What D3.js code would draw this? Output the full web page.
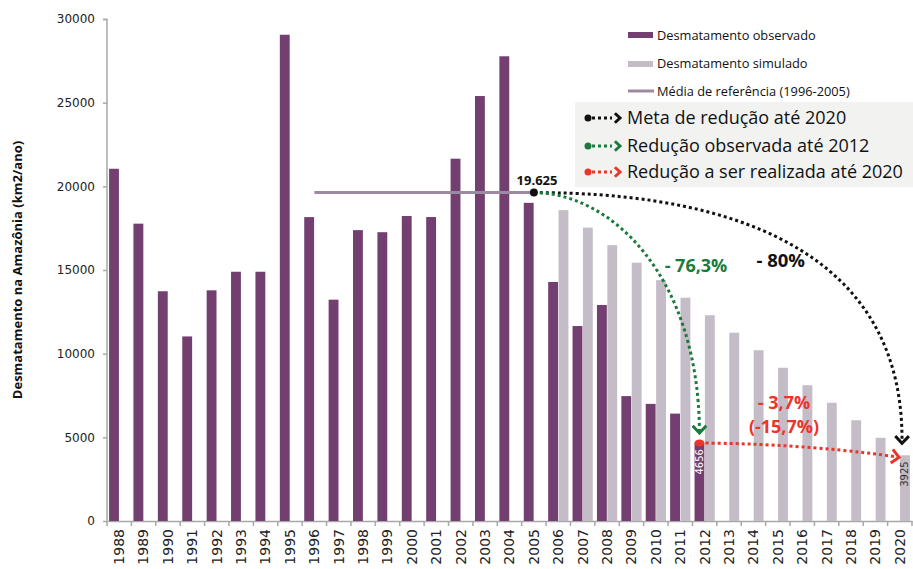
<!DOCTYPE html>
<html><head><meta charset="utf-8">
<script src="https://cdn.jsdelivr.net/npm/d3@7/dist/d3.min.js"></script>
<style>
html,body{margin:0;padding:0;background:#fff;}
svg{display:block;}
</style></head>
<body>
<svg id="chart" width="913" height="569"></svg>
<script>
const years = ["1988","1989","1990","1991","1992","1993","1994","1995","1996","1997","1998","1999","2000","2001","2002","2003","2004","2005","2006","2007","2008","2009","2010","2011","2012","2013","2014","2015","2016","2017","2018","2019","2020"];
const observedYears = years.slice(0, 25);
const observed = [21050,17770,13730,11030,13786,14896,14896,29059,18161,13227,17383,17259,18226,18165,21651,25396,27772,19014,14286,11651,12911,7464,7000,6418,4656];
const simulatedYears = years.slice(18);
const simulated = [18578,17532,16485,15438,14392,13345,12298,11252,10205,9158,8112,7065,6018,4972,3925];
const refYears = ["1996","2005"];
const refValue = 19625;
const yTicks = [0,5000,10000,15000,20000,25000,30000];
const seriesNames = ["Desmatamento observado","Desmatamento simulado","Média de referência (1996-2005)"];
const annotationLegend = ["Meta de redução até 2020","Redução observada até 2012","Redução a ser realizada até 2020"];
const goalLabel = "- 80%", observedRedLabel = "- 76,3%", remainLabel1 = "- 3,7%", remainLabel2 = "(-15,7%)";

const C = {obs:"#733f70", sim:"#c4bcc6", ref:"#9c8aa2", axis:"#a8a8a8", green:"#1c7a3c", red:"#ec3428", black:"#111"};
const svg = d3.select("#chart");
const x = d3.scaleBand().domain(years).range([107, 912]).paddingInner(0).paddingOuter(0);
const inner = d3.scaleBand().domain(["obs","sim"]).range([0, x.bandwidth()]).paddingInner(0.05).paddingOuter(0.2);
const y = d3.scaleLinear().domain([0, 30000]).range([521, 19]);

// axes
const yAxis = svg.append("g").attr("transform","translate(107,0)")
  .call(d3.axisLeft(y).tickValues(yTicks).tickSize(4).tickPadding(8).tickFormat(d3.format("d")));
yAxis.select(".domain").attr("stroke", C.axis).attr("stroke-width",1.5).attr("d","M-4,19.5H0V521");
yAxis.selectAll(".tick line").attr("stroke", C.axis).attr("stroke-width",1.5);
yAxis.selectAll("text").attr("font-family","DejaVu Sans").attr("font-size",12).attr("fill","#222");

const xAxis = svg.append("g").attr("transform","translate(0,521)")
  .call(d3.axisBottom(x).tickSize(0).tickPadding(0));
xAxis.select(".domain").attr("stroke", C.axis).attr("stroke-width",1.5);
xAxis.selectAll(".tick text").attr("font-family","DejaVu Sans").attr("font-size",14).attr("fill","#222")
  .attr("text-anchor","end").attr("dy","0.35em").attr("transform","translate(0,8) rotate(-90)");
xAxis.selectAll(".bnd").data(years.concat(["end"])).enter().append("line")
  .attr("x1",(d,i)=> i<years.length ? x(d) : x.range()[1]).attr("x2",(d,i)=> i<years.length ? x(d) : x.range()[1])
  .attr("y1",0).attr("y2",5).attr("stroke",C.axis).attr("stroke-width",1.5);

// bars
svg.append("g").selectAll("rect").data(observed).enter().append("rect")
  .attr("x",(d,i)=> x(observedYears[i]) + inner("obs")).attr("width", inner.bandwidth())
  .attr("y", d=> y(d)).attr("height", d=> y(0)-y(d)).attr("fill", C.obs);
svg.append("g").selectAll("rect").data(simulated).enter().append("rect")
  .attr("x",(d,i)=> x(simulatedYears[i]) + inner("sim")).attr("width", inner.bandwidth())
  .attr("y", d=> y(d)).attr("height", d=> y(0)-y(d)).attr("fill", C.sim);

// reference line
const xc = d => x(d) + x.bandwidth()/2;
svg.append("line").attr("x1", xc(refYears[0])).attr("x2", xc(refYears[1]))
  .attr("y1", y(refValue)).attr("y2", y(refValue)).attr("stroke", C.ref).attr("stroke-width",3);

// value labels in bars
const lastObs = observed[observed.length-1], lastSim = simulated[simulated.length-1];
function barLabel(xx, v, color){
  svg.append("text").attr("transform",`translate(${xx},${y(v)+6}) rotate(-90)`)
    .attr("text-anchor","end").attr("dy","0.35em").attr("font-family","DejaVu Sans").attr("font-size",10)
    .attr("fill",color).text(v);
}
barLabel(x("2012")+inner("obs")+inner.bandwidth()/2, lastObs, "#fff");
barLabel(x("2020")+inner("sim")+inner.bandwidth()/2, lastSim, "#333");

// annotation box
svg.append("rect").attr("x",575).attr("y",102).attr("width",338).attr("height",85).attr("fill","#f2f3f1");

// legend
const lg = svg.append("g").attr("font-family","Open Sans").attr("font-size",12.8).attr("fill","#111");
lg.append("rect").attr("x",628).attr("y",32).attr("width",25).attr("height",6).attr("fill",C.obs);
lg.append("rect").attr("x",628).attr("y",61).attr("width",25).attr("height",6).attr("fill",C.sim);
lg.append("line").attr("x1",628).attr("x2",654).attr("y1",91).attr("y2",91).attr("stroke",C.ref).attr("stroke-width",3);
[36,64,92].forEach((yy,i)=> lg.append("text").attr("x",657).attr("y",yy).attr("dy","0.35em").text(seriesNames[i]));

function chevron(g, tx, ty, ang, color, size){
  const a = ang, s = size||8, spread = 0.75;
  const p1 = [tx - s*Math.cos(a-spread), ty - s*Math.sin(a-spread)];
  const p2 = [tx - s*Math.cos(a+spread), ty - s*Math.sin(a+spread)];
  g.append("path").attr("d",`M${p1[0]},${p1[1]}L${tx},${ty}L${p2[0]},${p2[1]}`)
    .attr("fill","none").attr("stroke",color).attr("stroke-width",3).attr("stroke-linejoin","miter");
}
const rows = [[118,C.black],[146,C.green],[172,C.red]];
rows.forEach(([yy,col],i)=>{
  svg.append("circle").attr("cx",588).attr("cy",yy).attr("r",3.5).attr("fill",col);
  svg.append("line").attr("x1",592).attr("x2",612).attr("y1",yy).attr("y2",yy).attr("stroke",col)
    .attr("stroke-width",3).attr("stroke-dasharray","3 3");
  chevron(svg, 620, yy, 0, col, 7);
  svg.append("text").attr("x",627).attr("y",yy).attr("dy","0.35em").attr("font-family","Open Sans")
    .attr("font-size",18).attr("fill","#111").text(annotationLegend[i]);
});

// curves
const sx = xc("2005"), sy = y(refValue);
const gx = x("2012")+inner("obs")+inner.bandwidth()/2, gy = y(lastObs);
const ex = x("2020")+inner("sim")+inner.bandwidth()/2, ey = y(lastSim);
function curve(p0, c1, c2, p1, color){
  const p = d3.path(); p.moveTo(...p0); p.bezierCurveTo(...c1, ...c2, ...p1);
  svg.append("path").attr("d", p.toString()).attr("fill","none").attr("stroke",color)
    .attr("stroke-width",3).attr("stroke-dasharray","3 3");
  chevron(svg, p1[0], p1[1], Math.atan2(p1[1]-c2[1], p1[0]-c2[0]), color, 10);
}
curve([sx,sy],[650,sy],[905,210],[ex-3,ey-12], C.black);
curve([sx,sy],[610,sy],[699,275],[gx,gy-10], C.green);
curve([gx,gy],[780,gy],[860,gy+8],[ex-6,ey+2], C.red);
svg.append("circle").attr("cx",sx).attr("cy",sy).attr("r",4).attr("fill",C.black);
svg.append("ellipse").attr("cx",gx).attr("cy",gy).attr("rx",5).attr("ry",3.5).attr("fill",C.red);

// labels
const lab = svg.append("g").attr("font-family","Open Sans").attr("font-weight",700);
lab.append("text").attr("x",537).attr("y",185).attr("text-anchor","middle").attr("font-size",13).attr("fill","#111").text("19.625");
lab.append("text").attr("x",805).attr("y",267).attr("text-anchor","end").attr("font-size",18.5).attr("fill","#111").text(goalLabel);
lab.append("text").attr("x",696).attr("y",272).attr("text-anchor","middle").attr("font-size",18).attr("fill",C.green).text(observedRedLabel);
lab.append("text").attr("x",784).attr("y",409).attr("text-anchor","middle").attr("font-size",18).attr("fill",C.red).text(remainLabel1);
lab.append("text").attr("x",784).attr("y",433).attr("text-anchor","middle").attr("font-size",18).attr("fill",C.red).text(remainLabel2);

// y title
svg.append("text").attr("transform","translate(22,270) rotate(-90)").attr("text-anchor","middle")
  .attr("font-family","Open Sans").attr("font-weight",700).attr("font-size",13).attr("fill","#111")
  .text("Desmatamento na Amazônia (km2/ano)");
</script>
</body></html>
